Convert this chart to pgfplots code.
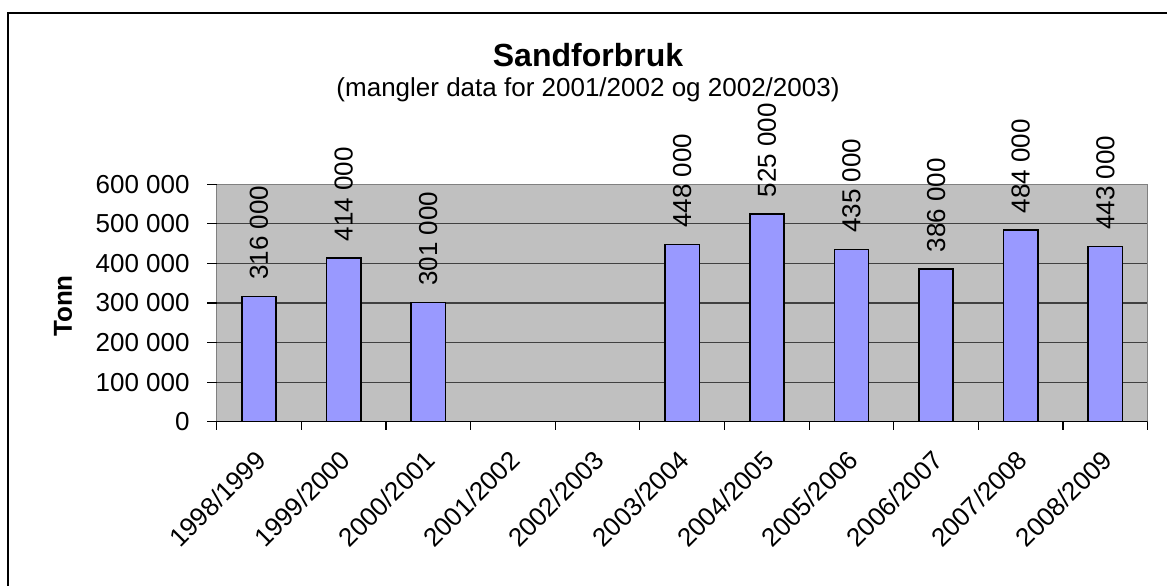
\documentclass[border=0pt]{standalone}
\usepackage{fontspec}
\setmainfont{Liberation Sans}
\usepackage{pgfplots}
\pgfplotsset{compat=1.18}
\definecolor{plotbg}{HTML}{C0C0C0}
\definecolor{barfill}{HTML}{9999FF}
\definecolor{frameg}{HTML}{808080}

\pgfplotstableread{
x y
0 316000
1 414000
2 301000
5 448000
6 525000
7 435000
8 386000
9 484000
10 443000
}\sand

\begin{document}
\begin{tikzpicture}[font=\fontsize{13}{15.6}\selectfont]
  % image is 1167 x 585 px, 1 px = 0.5 pt
  \useasboundingbox (0,0) rectangle (583.5pt,292.5pt);
  \draw[line width=1pt] (4pt,-2pt) -- (4pt,286pt) -- (590pt,286pt);

  \node[anchor=base, font=\fontsize{16}{19}\selectfont\bfseries] at (294pt,259.2pt) {Sandforbruk};
  \node[anchor=base] at (294pt,244.2pt) {(mangler data for 2001/2002 og 2002/2003)};
  \node[rotate=90, font=\fontsize{13}{15.6}\selectfont\bfseries] at (31.5pt,139.5pt) {Tonn};

  \begin{axis}[
    at={(108.35pt,81.65pt)}, anchor=south west,
    scale only axis, width=465.5pt, height=118.7pt,
    axis background/.style={fill=plotbg},
    axis line style={frameg, line width=0.7pt},
    xmin=-0.5, xmax=10.5,
    ymin=0, ymax=600000,
    xtick={0,...,10},
    xticklabels={1998/1999,1999/2000,2000/2001,2001/2002,2002/2003,2003/2004,
      2004/2005,2005/2006,2006/2007,2007/2008,2008/2009},
    minor xtick={-0.5,0.5,...,10.5},
    major tick length=0pt,
    minor tick length=4pt,
    ytick={0,100000,...,600000},
    yticklabels={0,100 000,200 000,300 000,400 000,500 000,600 000},
    extra y ticks={0,100000,...,600000},
    extra y tick labels={},
    extra y tick style={major tick length=4.85pt, grid=none},
    xtick pos=bottom, ytick pos=left,
    tick align=outside,
    tick style={black, line width=0.6pt},
    scaled y ticks=false,
    ymajorgrids,
    grid style={black!75, line width=0.6pt},
    yticklabel style={anchor=east, inner sep=0pt, xshift=-13.35pt},
    xticklabel style={rotate=45, anchor=east, inner sep=0pt, xshift=-11pt, yshift=-12.5pt},
  ]
    \addplot[ybar, bar width=0.405, fill=barfill, draw=black, line width=0.8pt,
      nodes near coords={\pgfmathprintnumber[fixed,precision=0,1000 sep={\ },assume math mode=true]{\pgfplotspointmeta}},
      every node near coord/.append style={rotate=90, anchor=west, inner xsep=8pt, inner ysep=0pt, black,
        font=\fontsize{13}{15.6}\selectfont}]
      table[x=x, y=y] {\sand};
    \draw[black, line width=0.7pt] (axis cs:-0.5,0) -- (axis cs:10.5,0);
  \end{axis}
\end{tikzpicture}
\end{document}
